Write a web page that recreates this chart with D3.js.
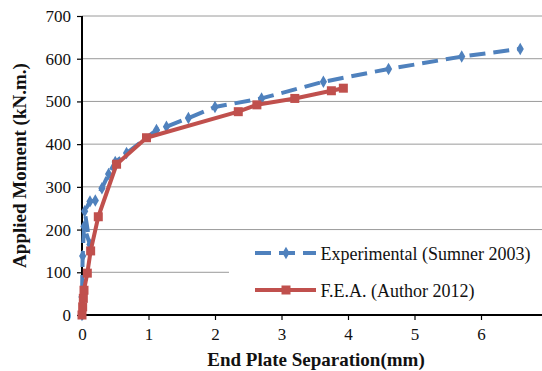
<!DOCTYPE html>
<html>
<head>
<meta charset="utf-8">
<script src="https://cdn.jsdelivr.net/npm/d3@7"></script>
<style>
  html, body { margin: 0; padding: 0; background: #fff; }
  svg { display: block; }
  text { font-family: "Liberation Serif", "Times New Roman", serif; }
</style>
</head>
<body>
<svg id="chart" width="542" height="371"></svg>
<script>
// Moment–separation curves for the end plate connection
const xTicks = [0, 1, 2, 3, 4, 5, 6];
const yTicks = [0, 100, 200, 300, 400, 500, 600, 700];

// Experimental test (Sumner 2003): [separation mm, moment kN.m]
const experimentalSep = [0, 0, 0.01, 0.03, 0.12, 0.04, 0.12, 0.2, 0.3, 0.4, 0.5, 0.67, 1.12, 1.27, 1.6, 2.0, 2.7, 3.63, 4.61, 5.71, 6.59];
const experimentalMom = [0, 42, 138, 207, 165, 243, 266, 268, 297, 330, 358, 379, 433, 441, 461, 487, 507, 546, 576, 605, 623];

// Finite element analysis (Author 2012)
const feaSep = [0, 0.01, 0.02, 0.03, 0.08, 0.13, 0.245, 0.52, 0.97, 2.35, 2.63, 3.2, 3.75, 3.93];
const feaMom = [0, 19, 39, 58, 98, 150, 230, 353, 415, 476, 492, 507, 525, 531];

const seriesNames = ["Experimental (Sumner 2003)", "F.E.A. (Author 2012)"];
const xTitle = "End Plate Separation(mm)";
const yTitle = "Applied Moment (kN.m.)";

const blue = "#4F81BD", red = "#C0504D";

const svg = d3.select("#chart");
const x = d3.scaleLinear().domain([0, 7]).range([82, 547.5]);
const y = d3.scaleLinear().domain([0, 700]).range([315, 16]);

// horizontal gridlines
svg.append("g").selectAll("line")
  .data(yTicks.filter(d => d > 0))
  .join("line")
  .attr("x1", x(0)).attr("x2", 542)
  .attr("y1", d => y(d)).attr("y2", d => y(d))
  .attr("stroke", "#9a9a9a").attr("stroke-width", 1);

// legend background hides the gridline behind it
const legend = svg.append("g");
legend.append("rect")
  .attr("x", 229).attr("y", 236).attr("width", 313).attr("height", 70)
  .attr("fill", "#fff");

// axes
const xAxis = svg.append("g")
  .attr("transform", `translate(0,${y(0)})`)
  .call(d3.axisBottom(x).tickValues(xTicks).tickFormat(d3.format("d")).tickSize(5).tickPadding(8));
xAxis.select(".domain").attr("d", `M${x(0)},0H542`).attr("stroke", "#000").attr("stroke-width", 2);

const yAxis = svg.append("g")
  .attr("transform", `translate(${x(0)},0)`)
  .call(d3.axisLeft(y).tickValues(yTicks).tickSize(5).tickPadding(6));
yAxis.select(".domain").attr("d", `M0,${y(700)}V${y(0)}`).attr("stroke", "#000").attr("stroke-width", 2);

svg.selectAll(".tick line").attr("stroke", "#000").attr("stroke-width", 1.2);
svg.selectAll(".tick text").attr("font-size", 17).attr("fill", "#111")
  .attr("font-family", "Liberation Serif, Times New Roman, serif");

// series
const expData = experimentalSep.map((s, i) => [s, experimentalMom[i]]);
const feaData = feaSep.map((s, i) => [s, feaMom[i]]);
const line = d3.line().x(d => x(d[0])).y(d => y(d[1]));

svg.append("path").datum(expData)
  .attr("d", line).attr("fill", "none")
  .attr("stroke", blue).attr("stroke-width", 4)
  .attr("stroke-dasharray", "16,8").attr("stroke-linejoin", "round");

const diamond = d3.symbol().type(d3.symbolDiamond).size(45);
svg.append("g").selectAll("path")
  .data(expData)
  .join("path")
  .attr("transform", d => `translate(${x(d[0])},${y(d[1])})`)
  .attr("d", diamond).attr("fill", blue);

svg.append("path").datum(feaData)
  .attr("d", line).attr("fill", "none")
  .attr("stroke", red).attr("stroke-width", 4).attr("stroke-linejoin", "round");

svg.append("g").selectAll("rect")
  .data(feaData)
  .join("rect")
  .attr("x", d => x(d[0]) - 4.5).attr("y", d => y(d[1]) - 4.5)
  .attr("width", 9).attr("height", 9).attr("fill", red);

// legend entries
const rows = [
  { name: seriesNames[0], color: blue, dash: "16,8", cy: 253, mark: "diamond" },
  { name: seriesNames[1], color: red, dash: null, cy: 290, mark: "square" }
];
rows.forEach(r => {
  legend.append("line")
    .attr("x1", 255).attr("x2", 316).attr("y1", r.cy).attr("y2", r.cy)
    .attr("stroke", r.color).attr("stroke-width", 4)
    .attr("stroke-dasharray", r.dash);
  if (r.mark === "diamond") {
    legend.append("path").attr("transform", `translate(286,${r.cy})`)
      .attr("d", diamond).attr("fill", r.color);
  } else {
    legend.append("rect").attr("x", 281.5).attr("y", r.cy - 4.5)
      .attr("width", 9).attr("height", 9).attr("fill", r.color);
  }
  legend.append("text")
    .attr("x", 320.5).attr("y", r.cy + 7)
    .attr("font-size", 18).attr("fill", "#111")
    .text(r.name);
});

// axis titles
svg.append("text")
  .attr("x", 316).attr("y", 366)
  .attr("text-anchor", "middle")
  .attr("font-size", 19).attr("font-weight", "bold").attr("fill", "#111")
  .text(xTitle);

svg.append("text")
  .attr("transform", `translate(26,${(y(0) + y(700)) / 2}) rotate(-90)`)
  .attr("text-anchor", "middle")
  .attr("font-size", 19).attr("font-weight", "bold").attr("fill", "#111")
  .text(yTitle);
</script>
</body>
</html>
